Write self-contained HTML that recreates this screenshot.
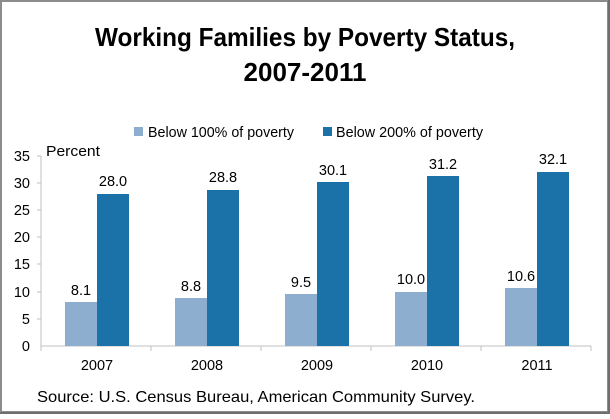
<!DOCTYPE html>
<html><head><style>
body{margin:0;background:#fff}
.f{font-family:"Liberation Sans",sans-serif}
</style></head><body>
<svg width="610" height="414" xmlns="http://www.w3.org/2000/svg" class="f">
<rect x="0" y="0" width="610" height="414" fill="#fff"/>
<rect x="1" y="1" width="607" height="411" fill="none" stroke="#8c8c8c" stroke-width="2"/>
<line x1="0" y1="413" x2="610" y2="413" stroke="#6e6e6e" stroke-width="2"/>
<line x1="609" y1="0" x2="609" y2="414" stroke="#6e6e6e" stroke-width="2"/>
<text x="305" y="46" text-anchor="middle" font-size="26" font-weight="bold" textLength="420" lengthAdjust="spacingAndGlyphs">Working Families by Poverty Status,</text>
<text x="305" y="81" text-anchor="middle" font-size="26" font-weight="bold">2007-2011</text>
<rect x="134" y="127" width="9" height="9" fill="#8eaed0"/>
<text x="148" y="137" font-size="15" textLength="146" lengthAdjust="spacingAndGlyphs">Below 100% of poverty</text>
<rect x="323" y="127" width="9" height="9" fill="#1a72a8"/>
<text x="336" y="137" font-size="15" textLength="147" lengthAdjust="spacingAndGlyphs">Below 200% of poverty</text>
<text x="46" y="156" font-size="15" textLength="54" lengthAdjust="spacingAndGlyphs">Percent</text>
<g font-size="14.5" text-anchor="end">
<text x="30" y="161">35</text><text x="30" y="188">30</text><text x="30" y="215">25</text><text x="30" y="242">20</text><text x="30" y="269">15</text><text x="30" y="297">10</text><text x="30" y="324">5</text><text x="30" y="351">0</text>
</g>
<line x1="41" y1="156" x2="41" y2="346" stroke="#c0c0c0"/>
<line x1="41" y1="346" x2="591" y2="346" stroke="#c0c0c0"/>
<g stroke="#c0c0c0">
<line x1="37" y1="156" x2="41" y2="156"/><line x1="37" y1="183" x2="41" y2="183"/><line x1="37" y1="210" x2="41" y2="210"/><line x1="37" y1="237" x2="41" y2="237"/><line x1="37" y1="264" x2="41" y2="264"/><line x1="37" y1="292" x2="41" y2="292"/><line x1="37" y1="319" x2="41" y2="319"/>
<line x1="41" y1="346" x2="41" y2="351"/><line x1="151" y1="346" x2="151" y2="351"/><line x1="261" y1="346" x2="261" y2="351"/><line x1="371" y1="346" x2="371" y2="351"/><line x1="481" y1="346" x2="481" y2="351"/><line x1="591" y1="346" x2="591" y2="351"/>
</g>
<g font-size="14.5" text-anchor="middle">
<rect x="65" y="302" width="32" height="44" fill="#8eaed0"/><rect x="97" y="194" width="32" height="152" fill="#1a72a8"/>
<text x="81" y="295">8.1</text><text x="113" y="186">28.0</text><text x="97" y="370">2007</text>
<rect x="175" y="298" width="32" height="48" fill="#8eaed0"/><rect x="207" y="190" width="32" height="156" fill="#1a72a8"/>
<text x="191" y="291">8.8</text><text x="223" y="182">28.8</text><text x="207" y="370">2008</text>
<rect x="285" y="294" width="32" height="52" fill="#8eaed0"/><rect x="317" y="182" width="32" height="164" fill="#1a72a8"/>
<text x="301" y="287">9.5</text><text x="333" y="175">30.1</text><text x="317" y="370">2009</text>
<rect x="395" y="292" width="32" height="54" fill="#8eaed0"/><rect x="427" y="176" width="32" height="170" fill="#1a72a8"/>
<text x="411" y="284">10.0</text><text x="443" y="169">31.2</text><text x="427" y="370">2010</text>
<rect x="505" y="288" width="32" height="58" fill="#8eaed0"/><rect x="537" y="172" width="32" height="174" fill="#1a72a8"/>
<text x="521" y="281">10.6</text><text x="553" y="164">32.1</text><text x="537" y="370">2011</text>
</g>
<text x="37" y="402" font-size="16" textLength="438" lengthAdjust="spacingAndGlyphs">Source: U.S. Census Bureau, American Community Survey.</text>
</svg>
</body></html>
